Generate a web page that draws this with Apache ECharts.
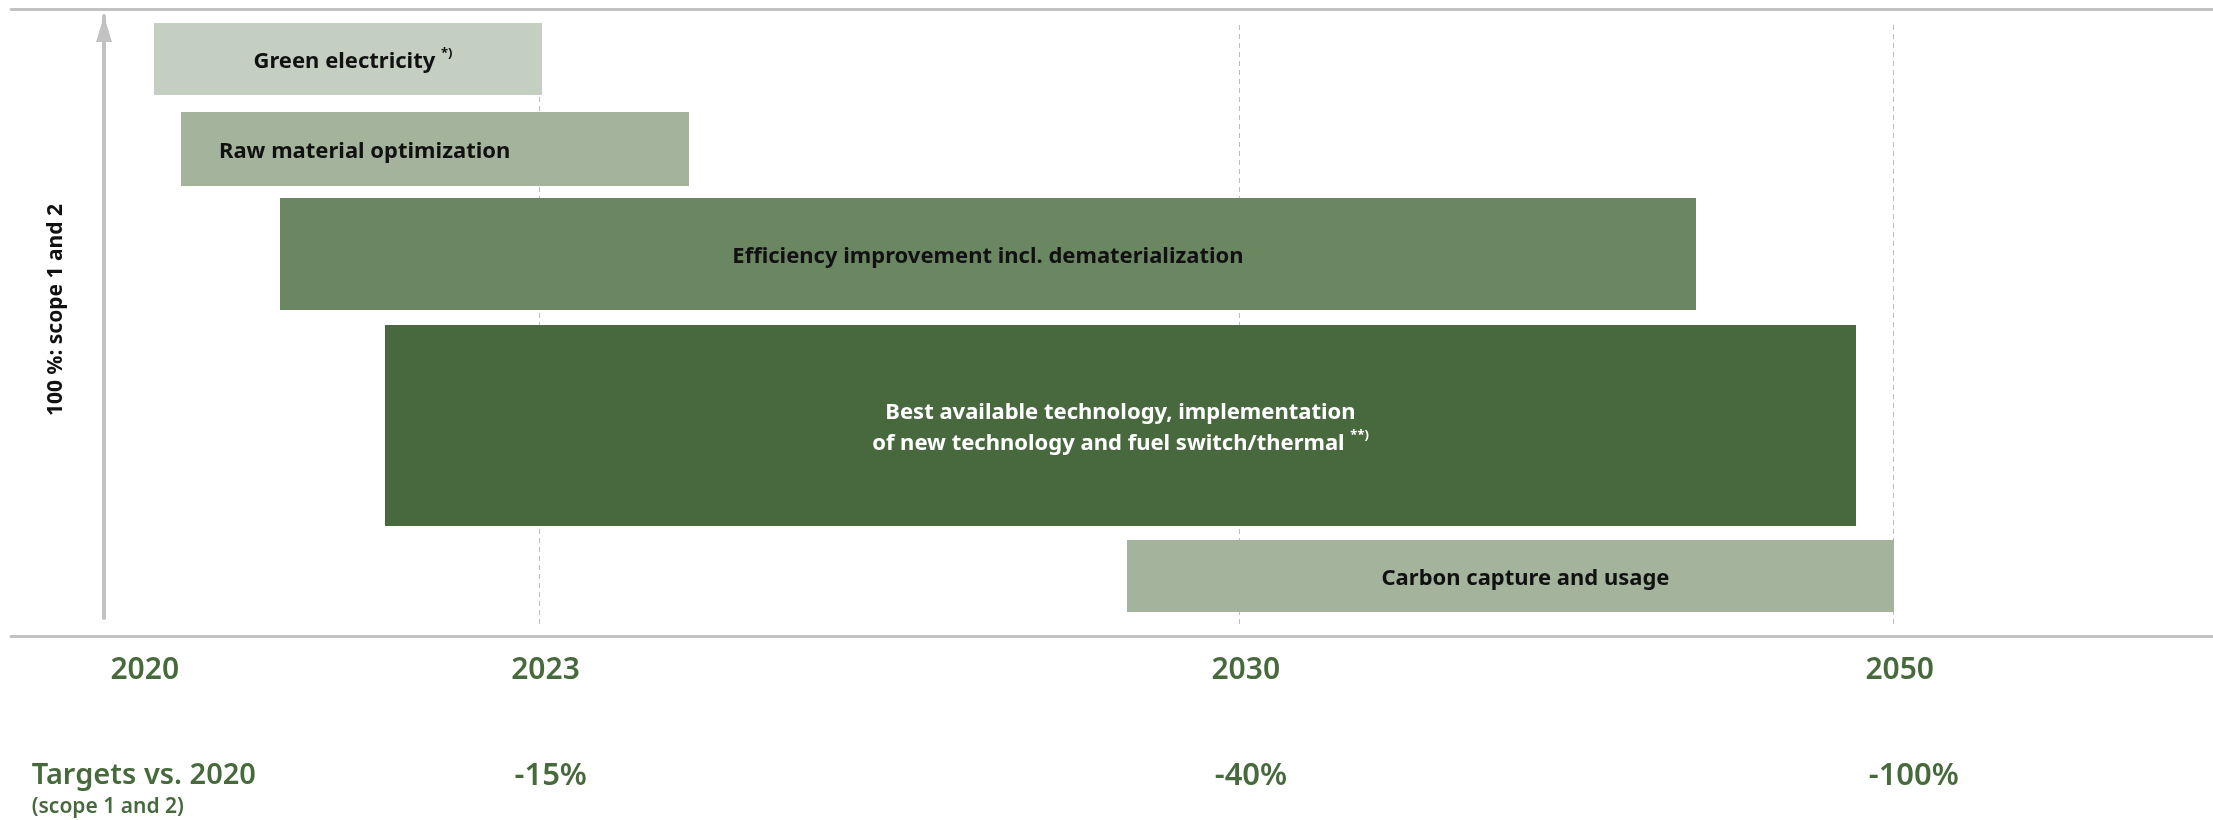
<!DOCTYPE html>
<html>
<head>
<meta charset="utf-8">
<style>
  html, body { margin: 0; padding: 0; background: #ffffff; }
  #chart { width: 2213px; height: 820px; }
</style>
<script src="https://cdn.jsdelivr.net/npm/echarts@6/dist/echarts.min.js"></script>
</head>
<body>
<div id="chart"></div>
<script>
// Decarbonisation levers placed on a schematic timeline (0–100 timeline units)
// against their share of scope 1 and 2 emissions (0–100 %).
const leverNames = [
  'Green electricity',
  'Raw material optimization',
  'Efficiency improvement incl. dematerialization',
  'Best available technology, implementation\nof new technology and fuel switch/thermal',
  'Carbon capture and usage'
];
const leverNotes = ['*)', '', '', '**)', ''];
const leverStart = [6.5, 7.7, 12.2, 17.0, 50.7];
const leverEnd = [24.1, 30.8, 76.5, 83.8, 85.5];
const leverShareLow = [86.9, 71.8, 51.2, 15.3, 1.0];
const leverShareHigh = [98.8, 84.0, 69.8, 48.7, 13.0];

// Milestones along the timeline and the reduction targets set for them
const milestoneYears = ['2020', '2023', '2030', '2050'];
const milestonePos = [5.8, 24.0, 55.8, 85.5];
const milestoneTargets = ['', '-15%', '-40%', '-100%'];
const milestoneGuide = [false, true, true, true];
const targetTitle = 'Targets vs. 2020';
const targetScope = '(scope 1 and 2)';
const shareAxisName = '100 %: scope 1 and 2';

// Styling
const FONT = 'Noto Sans';
const GREEN_TEXT = '#476a3d';
const RULE = '#c2c2c2';
const leverColors = ['#c4cfc1', '#a3b39c', '#6a8762', '#48683d', '#a3b39c'];
const leverTextColors = ['#111111', '#111111', '#111111', '#ffffff', '#111111'];
const leverLabelAlign = ['center', 'left', 'center', 'center', 'center'];
const leverLabelShift = [5, 38, 0, 0, 15];

function milestoneIndex(v) {
  let best = 0;
  for (let k = 1; k < milestonePos.length; k++) {
    if (Math.abs(milestonePos[k] - v) < Math.abs(milestonePos[best] - v)) best = k;
  }
  return best;
}

function renderLever(params, api) {
  const i = params.dataIndex;
  const tl = api.coord([api.value(0), api.value(3)]);
  const br = api.coord([api.value(1), api.value(2)]);
  const x = Math.round(tl[0]);
  const y = Math.round(tl[1]);
  const w = Math.round(br[0]) - x;
  const h = Math.round(br[1]) - y;
  const align = leverLabelAlign[i];
  const tx = align === 'left' ? x + leverLabelShift[i] : x + w / 2 + leverLabelShift[i];
  const lines = leverNames[i].split('\n');
  const note = leverNotes[i];
  const text = lines.map(function (line, k) {
    const last = k === lines.length - 1;
    return '{t|' + line + (last && note ? ' ' : '') + '}' + (last && note ? '{n|' + note + '}' : '');
  }).join('\n');
  const fill = leverTextColors[i];
  return {
    type: 'group',
    children: [
      { type: 'rect', shape: { x: x, y: y, width: w, height: h }, style: { fill: leverColors[i] } },
      {
        type: 'text',
        style: {
          x: tx, y: y + h / 2 + 3, text: text, align: align, verticalAlign: 'middle',
          rich: {
            t: { fontFamily: FONT, fontSize: 22, fontWeight: 700, lineHeight: 31, fill: fill, align: 'center' },
            n: { fontFamily: FONT, fontSize: 13, fontWeight: 700, lineHeight: 14, fill: fill, verticalAlign: 'top' }
          }
        }
      }
    ]
  };
}

function renderGuide(params, api) {
  const cs = params.coordSys;
  const x = Math.floor(api.coord([api.value(0), 0])[0]) + 0.5;
  return {
    type: 'line',
    shape: { x1: x, y1: cs.y + 9, x2: x, y2: cs.y + cs.height + 9 },
    style: { stroke: '#bdbdbd', lineWidth: 1, lineDash: [5, 4] }
  };
}

const timelineAxis = {
  type: 'value', min: 0, max: 100,
  splitLine: { show: false }, axisTick: { show: false }
};

const chart = echarts.init(document.getElementById('chart'), null, { renderer: 'canvas' });
chart.setOption({
  animation: false,
  backgroundColor: '#ffffff',
  grid: { left: 11, right: 0, top: 16, bottom: 202, containLabel: false, outerBoundsMode: 'none' },
  xAxis: [
    Object.assign({}, timelineAxis, {
      position: 'bottom', offset: 18,
      axisLine: { show: true, onZero: false, lineStyle: { color: RULE, width: 3 } },
      axisLabel: {
        customValues: milestonePos, margin: 19, padding: [0, 0, 0, 12],
        fontFamily: FONT, fontSize: 30, fontWeight: 600, color: GREEN_TEXT,
        formatter: function (v) { return milestoneYears[milestoneIndex(v)]; }
      }
    }),
    Object.assign({}, timelineAxis, {
      position: 'bottom', offset: 122,
      axisLine: { show: false, onZero: false },
      axisLabel: {
        customValues: milestonePos, margin: 19, padding: [0, 0, 0, 50],
        formatter: function (v) {
          const k = milestoneIndex(v);
          if (!milestoneTargets[k]) return '{h|' + targetTitle + '}\n{s|' + targetScope + '}';
          return '{v|' + milestoneTargets[k] + '}';
        },
        rich: {
          h: { fontFamily: FONT, fontSize: 29, fontWeight: 600, lineHeight: 34, color: GREEN_TEXT, align: 'left', width: 264 },
          s: { fontFamily: FONT, fontSize: 21, fontWeight: 600, lineHeight: 29, color: GREEN_TEXT, align: 'left', width: 264 },
          v: { fontFamily: FONT, fontSize: 31, fontWeight: 600, lineHeight: 34, color: GREEN_TEXT, align: 'left', width: 100 }
        }
      }
    }),
    Object.assign({}, timelineAxis, {
      position: 'top', offset: 7,
      axisLine: { show: true, onZero: false, lineStyle: { color: RULE, width: 3 } },
      axisLabel: { show: false }
    })
  ],
  yAxis: {
    type: 'value', min: 0, max: 100, position: 'left', offset: -93,
    splitLine: { show: false }, axisTick: { show: false }, axisLabel: { show: false },
    axisLine: {
      show: true, onZero: false,
      symbol: ['none', 'triangle'], symbolSize: [16, 26], symbolOffset: [0, -13],
      lineStyle: { color: RULE, width: 4 }
    },
    name: shareAxisName, nameLocation: 'middle', nameRotate: 90, nameGap: 37,
    nameTextStyle: { fontFamily: FONT, fontSize: 21, fontWeight: 700, color: '#111111', padding: [0, 0, 0, 14] }
  },
  series: [
    {
      type: 'custom', z: 1, silent: true,
      data: milestonePos.filter(function (p, k) { return milestoneGuide[k]; }).map(function (p) { return [p, 0]; }),
      encode: { x: 0, y: 1 },
      renderItem: renderGuide
    },
    {
      type: 'custom', z: 2, silent: true,
      data: leverStart.map(function (s, i) { return [s, leverEnd[i], leverShareLow[i], leverShareHigh[i]]; }),
      encode: { x: [0, 1], y: [2, 3] },
      renderItem: renderLever
    }
  ]
});
</script>
</body>
</html>
